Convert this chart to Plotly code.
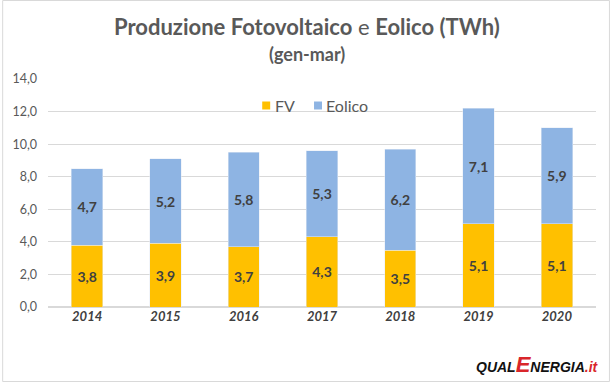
import plotly.graph_objects as go

years = ["2014", "2015", "2016", "2017", "2018", "2019", "2020"]
fv = [3.8, 3.9, 3.7, 4.3, 3.5, 5.1, 5.1]
eolico = [4.7, 5.2, 5.8, 5.3, 6.2, 7.1, 5.9]
series_names = ["FV", "Eolico"]
series_colors = ["#FFC000", "#8EB4E3"]

W, H = 611, 383
L, R, T, B = 46, 15, 79, 76
pw, ph = W - L - R, H - T - B

def px(x):
    return (x - L) / pw

def py(y):
    return (H - B - y) / ph

label_font = dict(family="Lato", size=14, color="#404040", weight="bold")

fig = go.Figure()
for name, vals, col in zip(series_names, [fv, eolico], series_colors):
    fig.add_bar(x=years, y=vals, name=name, marker_color=col,
                texttemplate="%{y:.1f}", textposition="inside", insidetextanchor="middle",
                textfont=label_font, width=0.4, textangle=0)

fig.update_layout(
    width=W, height=H, barmode="stack", separators=",.",
    margin=dict(l=L, r=R, t=T, b=B),
    paper_bgcolor="white", plot_bgcolor="white",
    font=dict(family="Lato", color="#595959"),
    showlegend=False,
    xaxis=dict(showgrid=False, showline=False, ticks="",
               tickfont=dict(size=13, color="#404040", weight="bold", style="italic")),
    yaxis=dict(range=[0, 14], dtick=2, tickformat=".1f", gridcolor="#D9D9D9",
               gridwidth=1, zeroline=True, zerolinecolor="#D9D9D9", showline=False,
               tickfont=dict(size=12.5, color="#595959"), ticks="", ticklabelstandoff=10),
)

# legend drawn manually (Excel-style compact legend)
leg_sq = [(261, 269), (313, 321)]
leg_tx = [272, 323]
for (a, b), tx, name, col in zip(leg_sq, leg_tx, series_names, series_colors):
    fig.add_shape(type="rect", xref="paper", yref="paper",
                  x0=px(a), x1=px(b), y0=py(109.5), y1=py(101.5),
                  line=dict(width=0), fillcolor=col)
    fig.add_annotation(xref="paper", yref="paper", x=px(tx), y=py(105), text=name,
                       showarrow=False, xanchor="left", yanchor="middle",
                       font=dict(size=16, color="#595959", family="Lato"))

fig.add_annotation(xref="paper", yref="paper", x=px(306), y=py(27),
                   text="<b>Produzione Fotovoltaico</b> e <b>Eolico (TWh)</b>",
                   showarrow=False, font=dict(size=22, color="#595959", family="Lato"),
                   xanchor="center", yanchor="middle")
fig.add_annotation(xref="paper", yref="paper", x=px(306), y=py(54),
                   text="<b>(gen-mar)</b>",
                   showarrow=False, font=dict(size=18, color="#595959", family="Lato"),
                   xanchor="center", yanchor="middle")
fig.add_annotation(xref="paper", yref="paper", x=px(601), y=py(364),
                   text="<b><i>QUAL<span style='color:#D9262B;font-size:22px'>E</span>NERGIA<span style='color:#D9262B'>.it</span></i></b>",
                   showarrow=False, font=dict(size=14, color="#111111", family="Liberation Sans Narrow, Liberation Sans"),
                   xanchor="right", yanchor="middle")

fig.add_shape(type="rect", xref="paper", yref="paper",
              x0=px(0.5), x1=px(609.5), y0=py(381.5), y1=py(0.5),
              line=dict(color="#D9D9D9", width=1), fillcolor="rgba(0,0,0,0)", layer="below")

fig.write_html("out.html", config={"displayModeBar": False},
               post_script="document.body.style.margin='0';document.body.style.overflow='hidden';")
